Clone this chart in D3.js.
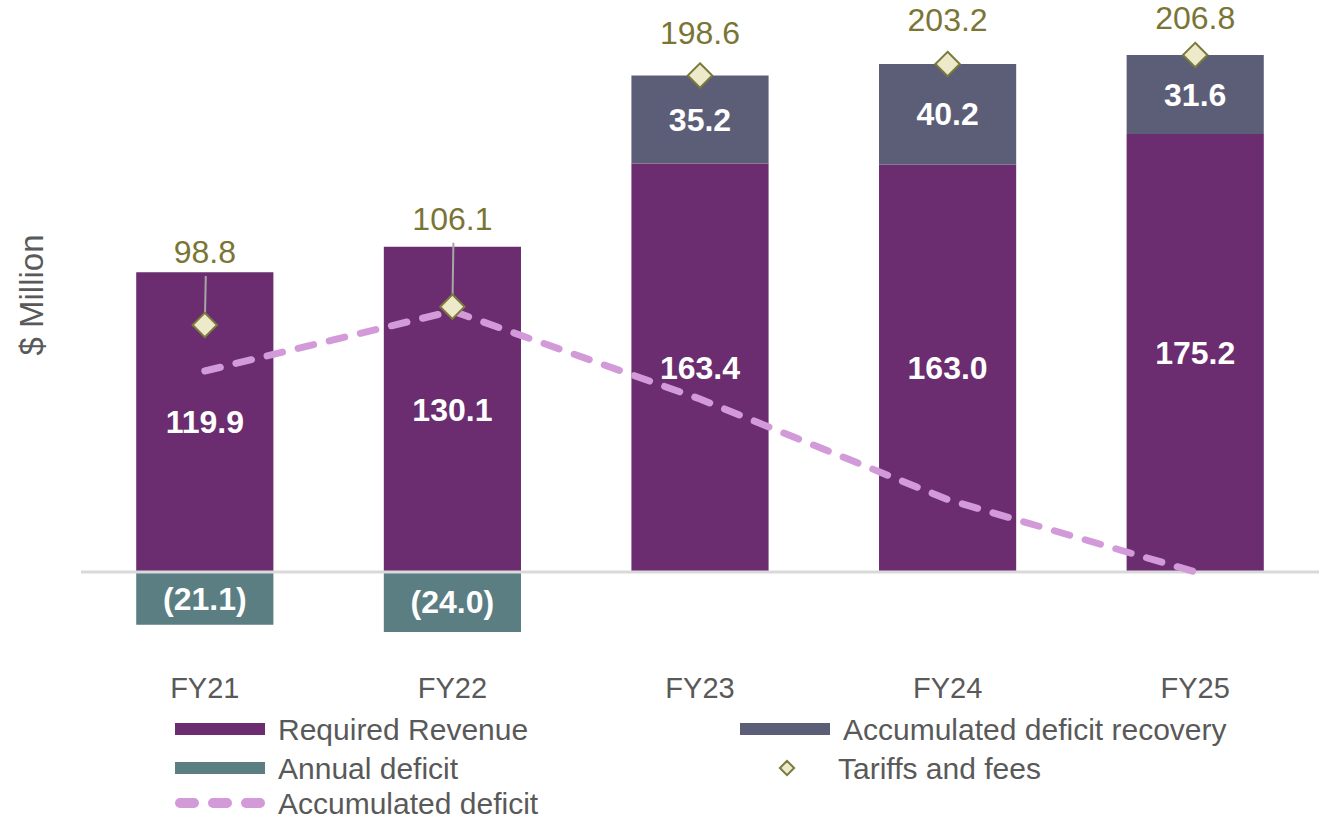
<!DOCTYPE html>
<html>
<head>
<meta charset="utf-8">
<script src="https://cdn.jsdelivr.net/npm/d3@7"></script>
<style>
    html, body { margin: 0; padding: 0; background: #ffffff; }
    svg { display: block; font-family: 'Liberation Sans', Arial, sans-serif; }
</style>
</head>
<body>
<svg id="chart" width="1319" height="818"></svg>
<script>
const years = ['FY21', 'FY22', 'FY23', 'FY24', 'FY25']
const requiredRevenue = [119.9, 130.1, 163.4, 163.0, 175.2]
const deficitRecovery = [0, 0, 35.2, 40.2, 31.6]
const annualDeficit = [-21.1, -24.0, 0, 0, 0]
const accumulatedDeficit = [80.4, 104.4, 69.2, 29.0, 0.0]
const tariffsAndFees = [98.8, 106.1, 198.6, 203.2, 206.8]

// manual label placement (px above the diamond), like the hand-moved labels
const tariffLabelLift = [73, 88, 43, 44, 37]

const colors = {
    revenue: '#6b2d70',
    recovery: '#5c5e78',
    deficit: '#5a7e82',
    line: '#d39ad9',
    tariffText: '#7a7534',
    diamondFill: '#edeacc',
    diamondStroke: '#7b7a3c',
    text: '#595959',
    axis: '#d9d9d9',
    leader: '#a6a6a6'
}

const svg = d3.select('#chart')

const x = d3.scaleBand()
    .domain(years)
    .range([81, 1319])
    .paddingInner(0.446)
    .paddingOuter(0.223)

const y = d3.scaleLinear()
    .domain([-40, 220])
    .range([672, 22])

const cx = d => x(d) + x.bandwidth() / 2
const diamond = d3.symbol().type(d3.symbolDiamond2)

function drawBars () {
    const g = svg.append('g').attr('class', 'bars')

    g.selectAll('.bar-revenue')
        .data(years)
        .join('rect')
        .attr('class', 'bar-revenue')
        .attr('x', d => x(d))
        .attr('width', x.bandwidth())
        .attr('y', (d, i) => y(requiredRevenue[i]))
        .attr('height', (d, i) => y(0) - y(requiredRevenue[i]))
        .attr('fill', colors.revenue)

    g.selectAll('.bar-recovery')
        .data(years.filter((d, i) => deficitRecovery[i] > 0))
        .join('rect')
        .attr('class', 'bar-recovery')
        .attr('x', d => x(d))
        .attr('width', x.bandwidth())
        .attr('y', d => {
            const i = years.indexOf(d)
            return y(requiredRevenue[i] + deficitRecovery[i])
        })
        .attr('height', d => {
            const i = years.indexOf(d)
            return y(requiredRevenue[i]) - y(requiredRevenue[i] + deficitRecovery[i])
        })
        .attr('fill', colors.recovery)

    g.selectAll('.bar-deficit')
        .data(years.filter((d, i) => annualDeficit[i] < 0))
        .join('rect')
        .attr('class', 'bar-deficit')
        .attr('x', d => x(d))
        .attr('width', x.bandwidth())
        .attr('y', y(0))
        .attr('height', d => y(annualDeficit[years.indexOf(d)]) - y(0))
        .attr('fill', colors.deficit)

    // zero line
    svg.append('line')
        .attr('x1', 81)
        .attr('x2', 1319)
        .attr('y1', y(0))
        .attr('y2', y(0))
        .attr('stroke', colors.axis)
        .attr('stroke-width', 3)
}

function drawBarLabels () {
    const g = svg.append('g')
        .attr('class', 'bar-labels')
        .attr('fill', '#ffffff')
        .attr('font-size', 32)
        .attr('font-weight', 'bold')
        .attr('text-anchor', 'middle')

    years.forEach((d, i) => {
        g.append('text')
            .attr('x', cx(d))
            .attr('y', y(requiredRevenue[i] / 2))
            .attr('dy', '0.35em')
            .text(requiredRevenue[i].toFixed(1))

        if (deficitRecovery[i] > 0) {
            g.append('text')
                .attr('x', cx(d))
                .attr('y', y(requiredRevenue[i] + deficitRecovery[i] / 2))
                .attr('dy', '0.35em')
                .text(deficitRecovery[i].toFixed(1))
        }

        if (annualDeficit[i] < 0) {
            g.append('text')
                .attr('x', cx(d))
                .attr('y', y(annualDeficit[i] / 2))
                .attr('dy', '0.35em')
                .text('(' + Math.abs(annualDeficit[i]).toFixed(1) + ')')
        }
    })
}

function drawAccumulatedLine () {
    const line = d3.line()
        .x((d, i) => cx(years[i]))
        .y(d => y(d))

    svg.append('path')
        .datum(accumulatedDeficit)
        .attr('class', 'accumulated-line')
        .attr('d', line)
        .attr('fill', 'none')
        .attr('stroke', colors.line)
        .attr('stroke-width', 7)
        .attr('stroke-linecap', 'round')
        .attr('stroke-dasharray', '16,16')
}

function drawTariffs () {
    const g = svg.append('g').attr('class', 'tariffs')

    // leader lines for labels pushed far from their point
    g.selectAll('.leader')
        .data(years.filter((d, i) => tariffLabelLift[i] > 60))
        .join('line')
        .attr('class', 'leader')
        .attr('x1', d => cx(d) + 1)
        .attr('x2', d => cx(d))
        .attr('y1', d => {
            const i = years.indexOf(d)
            return y(tariffsAndFees[i]) - tariffLabelLift[i] + 24
        })
        .attr('y2', d => y(tariffsAndFees[years.indexOf(d)]))
        .attr('stroke', colors.leader)
        .attr('stroke-width', 2)

    g.selectAll('.tariff-point')
        .data(years)
        .join('path')
        .attr('class', 'tariff-point')
        .attr('d', diamond.size(380))
        .attr('transform', (d, i) => `translate(${cx(d)},${y(tariffsAndFees[i])})`)
        .attr('fill', colors.diamondFill)
        .attr('stroke', colors.diamondStroke)
        .attr('stroke-width', 2)

    g.selectAll('.tariff-label')
        .data(years)
        .join('text')
        .attr('class', 'tariff-label')
        .attr('x', d => cx(d))
        .attr('y', (d, i) => y(tariffsAndFees[i]) - tariffLabelLift[i])
        .attr('dy', '0.35em')
        .attr('text-anchor', 'middle')
        .attr('font-size', 32)
        .attr('fill', colors.tariffText)
        .text((d, i) => tariffsAndFees[i].toFixed(1))
}

function drawAxis () {
    const axis = d3.axisBottom(x).tickSize(0).tickPadding(0)

    const g = svg.append('g')
        .attr('class', 'x-axis')
        .attr('transform', 'translate(0,688)')
        .call(axis)

    g.select('.domain').remove()
    g.selectAll('text')
        .attr('dy', '0.35em')
        .attr('font-size', 29)
        .attr('font-family', "'Liberation Sans', Arial, sans-serif")
        .attr('fill', colors.text)

    svg.append('text')
        .attr('transform', 'translate(31,295) rotate(-90)')
        .attr('text-anchor', 'middle')
        .attr('dy', '0.35em')
        .attr('font-size', 33)
        .attr('fill', colors.text)
        .text('$ Million')
}

function drawLegend () {
    const items = [
        { label: 'Required Revenue', kind: 'rect', color: colors.revenue, x: 175, y: 729 },
        { label: 'Accumulated deficit recovery', kind: 'rect', color: colors.recovery, x: 740, y: 729 },
        { label: 'Annual deficit', kind: 'rect', color: colors.deficit, x: 175, y: 768 },
        { label: 'Tariffs and fees', kind: 'diamond', x: 740, y: 768 },
        { label: 'Accumulated deficit', kind: 'dash', x: 175, y: 803 }
    ]

    const g = svg.append('g').attr('class', 'legend')

    const item = g.selectAll('.legend-item')
        .data(items)
        .join('g')
        .attr('class', 'legend-item')
        .attr('transform', d => `translate(${d.x},${d.y})`)

    item.filter(d => d.kind === 'rect')
        .append('rect')
        .attr('x', 0)
        .attr('y', -6)
        .attr('width', 90)
        .attr('height', 12)
        .attr('fill', d => d.color)

    item.filter(d => d.kind === 'diamond')
        .append('path')
        .attr('d', diamond.size(130))
        .attr('transform', 'translate(47,0)')
        .attr('fill', colors.diamondFill)
        .attr('stroke', colors.diamondStroke)
        .attr('stroke-width', 2)

    item.filter(d => d.kind === 'dash')
        .append('line')
        .attr('x1', 5)
        .attr('x2', 90)
        .attr('y1', 0)
        .attr('y2', 0)
        .attr('stroke', colors.line)
        .attr('stroke-width', 10)
        .attr('stroke-linecap', 'round')
        .attr('stroke-dasharray', '14,19')

    item.append('text')
        .attr('x', d => d.kind === 'diamond' ? 98 : 103)
        .attr('dy', '0.35em')
        .attr('font-size', 30)
        .attr('fill', colors.text)
        .text(d => d.label)
}

drawBars()
drawAccumulatedLine()
drawTariffs()
drawBarLabels()
drawAxis()
drawLegend()
</script>
</body>
</html>
